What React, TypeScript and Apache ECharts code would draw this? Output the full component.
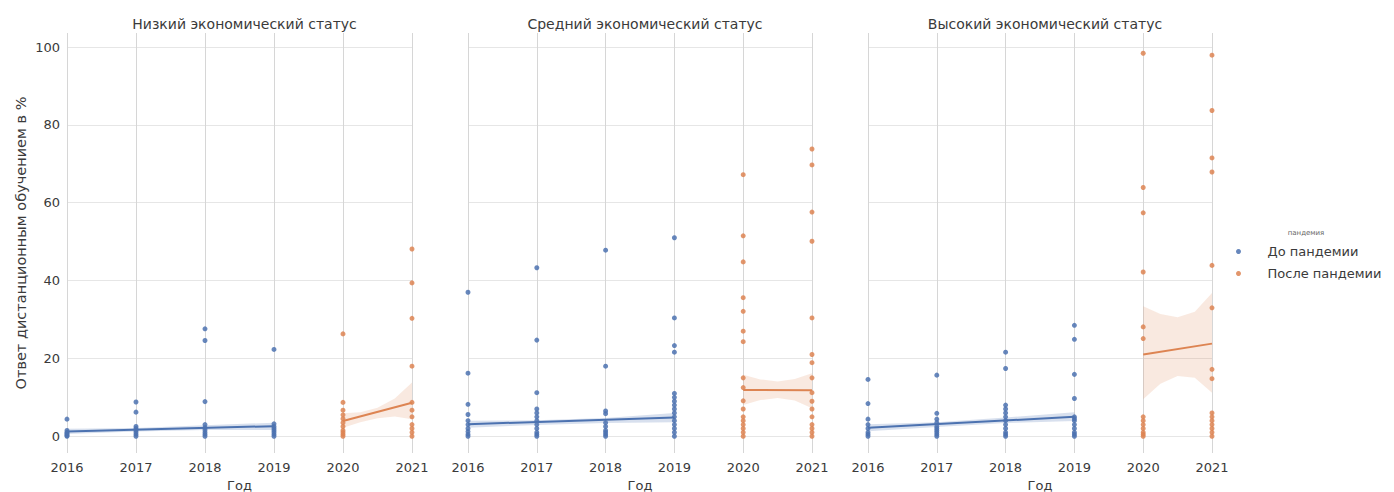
import React, { useEffect, useRef } from "react";
import * as echarts from "echarts";

// ---------- data ----------
const yearTicks = [2016, 2017, 2018, 2019, 2020, 2021];
const yTicks = [0, 20, 40, 60, 80, 100];
const panelTitles = [
  "Низкий экономический статус",
  "Средний экономический статус",
  "Высокий экономический статус",
];
const periodNames = ["До пандемии", "После пандемии"];
const legendTitle = "пандемия";
const xAxisName = "Год";
const yAxisName = "Ответ дистанционным обучением в %";

// scatter points [year, value]
const lowBefore: [number, number][] = [
  [2016, 4.4], [2016, 1.5], [2016, 1], [2016, 0.5], [2016, 0], [2016, 0.2], [2016, 0.8],
  [2017, 8.8], [2017, 6.2], [2017, 2.5], [2017, 2], [2017, 1.5], [2017, 1], [2017, 0.5], [2017, 0],
  [2018, 27.6], [2018, 24.6], [2018, 8.9], [2018, 3], [2018, 2.2], [2018, 1.6], [2018, 1], [2018, 0.5], [2018, 0],
  [2019, 22.3], [2019, 3.2], [2019, 2.5], [2019, 2], [2019, 1.5], [2019, 1], [2019, 0.5], [2019, 0],
];
const lowAfter: [number, number][] = [
  [2020, 26.3], [2020, 8.7], [2020, 6.7], [2020, 5.5], [2020, 4.5], [2020, 3.5], [2020, 2.5], [2020, 1.5], [2020, 1], [2020, 0.5], [2020, 0],
  [2021, 48.1], [2021, 39.4], [2021, 30.3], [2021, 18.0], [2021, 8.7], [2021, 6.7], [2021, 5], [2021, 3], [2021, 2], [2021, 1], [2021, 0],
];
const midBefore: [number, number][] = [
  [2016, 37.0], [2016, 16.2], [2016, 8.2], [2016, 5.6], [2016, 4], [2016, 3], [2016, 2], [2016, 1.2], [2016, 0.5], [2016, 0],
  [2017, 43.3], [2017, 24.7], [2017, 11.2], [2017, 7], [2017, 6], [2017, 5], [2017, 4], [2017, 3], [2017, 2], [2017, 1], [2017, 0.5], [2017, 0],
  [2018, 47.8], [2018, 18.0], [2018, 6.5], [2018, 5.8], [2018, 3.5], [2018, 2.5], [2018, 1.5], [2018, 1], [2018, 0.5], [2018, 0],
  [2019, 51.0], [2019, 30.4], [2019, 23.3], [2019, 21.6], [2019, 11], [2019, 10], [2019, 9], [2019, 8], [2019, 7], [2019, 6], [2019, 5], [2019, 4], [2019, 3], [2019, 2], [2019, 1], [2019, 0],
];
const midAfter: [number, number][] = [
  [2020, 67.2], [2020, 51.5], [2020, 44.8], [2020, 35.6], [2020, 32.1], [2020, 27.0], [2020, 24.3], [2020, 15.0], [2020, 12.5], [2020, 9.1], [2020, 7], [2020, 5], [2020, 4], [2020, 3], [2020, 2], [2020, 1], [2020, 0],
  [2021, 73.8], [2021, 69.7], [2021, 57.6], [2021, 50.1], [2021, 30.4], [2021, 21.0], [2021, 18.9], [2021, 15.0], [2021, 11.2], [2021, 9], [2021, 7], [2021, 5], [2021, 3], [2021, 2], [2021, 1], [2021, 0],
];
const highBefore: [number, number][] = [
  [2016, 14.6], [2016, 8.4], [2016, 4.4], [2016, 3], [2016, 2], [2016, 1], [2016, 0.5], [2016, 0],
  [2017, 15.7], [2017, 5.9], [2017, 4.4], [2017, 3.5], [2017, 2.5], [2017, 2], [2017, 1.5], [2017, 1], [2017, 0.5], [2017, 0],
  [2018, 21.6], [2018, 17.4], [2018, 8], [2018, 7], [2018, 6], [2018, 5], [2018, 4], [2018, 3], [2018, 2], [2018, 1], [2018, 0.5], [2018, 0],
  [2019, 28.5], [2019, 24.9], [2019, 15.9], [2019, 9.7], [2019, 5], [2019, 4.5], [2019, 4], [2019, 3], [2019, 2], [2019, 1], [2019, 0.5], [2019, 0],
];
const highAfter: [number, number][] = [
  [2020, 98.4], [2020, 63.9], [2020, 57.4], [2020, 42.2], [2020, 28.1], [2020, 25.1], [2020, 5], [2020, 4], [2020, 3], [2020, 2], [2020, 1], [2020, 0.5], [2020, 0],
  [2021, 97.9], [2021, 83.7], [2021, 71.5], [2021, 67.9], [2021, 43.9], [2021, 33.0], [2021, 17.2], [2021, 14.8], [2021, 6], [2021, 5], [2021, 4], [2021, 3], [2021, 2], [2021, 1], [2021, 0],
];

// regression fit lines [year, value]
const lowBeforeFit: [number, number][] = [[2016, 1.2], [2019, 2.6]];
const lowAfterFit: [number, number][] = [[2020, 3.9], [2021, 8.6]];
const midBeforeFit: [number, number][] = [[2016, 3.1], [2019, 4.8]];
const midAfterFit: [number, number][] = [[2020, 11.9], [2021, 11.8]];
const highBeforeFit: [number, number][] = [[2016, 2.2], [2019, 5.0]];
const highAfterFit: [number, number][] = [[2020, 21.0], [2021, 23.8]];

// confidence bands [year, low, high]
const lowBeforeBand: [number, number, number][] = [[2016, 0.6, 1.9], [2017, 1.2, 2.1], [2018, 1.6, 2.8], [2019, 1.6, 3.5]];
const lowAfterBand: [number, number, number][] = [[2020, 2.2, 5.9], [2020.25, 3.6, 6.2], [2020.5, 4.6, 7.3], [2020.75, 5.1, 9.7], [2021, 4.4, 13.8]];
const midBeforeBand: [number, number, number][] = [[2016, 2.2, 4.0], [2017, 2.9, 4.1], [2018, 3.4, 4.7], [2019, 3.6, 6.0]];
const midAfterBand: [number, number, number][] = [[2020, 8.0, 15.8], [2020.25, 9.3, 14.6], [2020.5, 9.8, 14.1], [2020.75, 9.2, 14.7], [2021, 7.2, 16.2]];
const highBeforeBand: [number, number, number][] = [[2016, 1.3, 3.1], [2017, 2.4, 3.6], [2018, 3.4, 4.8], [2019, 3.9, 6.2]];
const highAfterBand: [number, number, number][] = [[2020, 9.5, 33.4], [2020.25, 13.5, 31.4], [2020.5, 15.5, 30.6], [2020.75, 15.0, 32.0], [2021, 11.2, 36.8]];

// ---------- styling ----------
const FONT = "DejaVu Sans";
const BLUE = "#4c72b0";
const ORANGE = "#dd8452";
const BLUE_BAND = "rgba(76,114,176,0.22)";
const ORANGE_BAND = "rgba(221,132,82,0.18)";
const TEXT = "#3a3a3a";

const panels = [
  { left: 67, width: 345, before: lowBefore, after: lowAfter, bFit: lowBeforeFit, aFit: lowAfterFit, bBand: lowBeforeBand, aBand: lowAfterBand },
  { left: 468, width: 344, before: midBefore, after: midAfter, bFit: midBeforeFit, aFit: midAfterFit, bBand: midBeforeBand, aBand: midAfterBand },
  { left: 868, width: 344, before: highBefore, after: highAfter, bFit: highBeforeFit, aFit: highAfterFit, bBand: highBeforeBand, aBand: highAfterBand },
];
const GRID_TOP = 33;
const GRID_H = 420;

function bandSeries(band: [number, number, number][], color: string, idx: number) {
  return {
    type: "custom",
    xAxisIndex: idx,
    yAxisIndex: idx,
    silent: true,
    z: 1,
    data: band,
    renderItem: (params: any, api: any) => {
      if (params.dataIndex !== 0) return null;
      const upper = band.map((r) => api.coord([r[0], r[2]]));
      const lower = band.slice().reverse().map((r) => api.coord([r[0], r[1]]));
      return {
        type: "polygon",
        shape: { points: upper.concat(lower) },
        style: { fill: color, stroke: null },
      };
    },
  };
}

export default function App() {
  const ref = useRef<HTMLDivElement>(null);
  useEffect(() => {
    if (!ref.current) return;
    const chart = echarts.init(ref.current, null, { renderer: "svg" });
    const grids: any[] = [];
    const xAxes: any[] = [];
    const yAxes: any[] = [];
    const series: any[] = [];
    const titles: any[] = [];
    panels.forEach((p, i) => {
      grids.push({
        left: p.left, width: p.width, top: GRID_TOP, height: GRID_H,
        containLabel: false, outerBoundsMode: "none",
      });
      titles.push({
        text: panelTitles[i],
        left: p.left + p.width / 2,
        textAlign: "center",
        top: 12,
        textStyle: { fontFamily: FONT, fontSize: 14, fontWeight: "normal", color: TEXT },
      });
      xAxes.push({
        gridIndex: i,
        type: "value",
        min: 2016,
        max: 2021,
        interval: 1,
        name: xAxisName,
        nameLocation: "middle",
        nameGap: 23,
        nameTextStyle: { fontFamily: FONT, fontSize: 13, color: TEXT },
        axisLine: { show: false },
        axisTick: { show: false },
        axisLabel: {
          fontFamily: FONT,
          fontSize: 13,
          color: TEXT,
          margin: 8,
          formatter: (v: number) => String(v),
        },
        splitLine: { show: true, lineStyle: { color: "#d6d6d6", width: 1 } },
      });
      yAxes.push({
        gridIndex: i,
        type: "value",
        min: -4.3,
        max: 103.6,
        name: i === 0 ? yAxisName : "",
        nameLocation: "middle",
        nameGap: 39,
        nameTextStyle: { fontFamily: FONT, fontSize: 14.5, color: TEXT },
        axisLine: { show: false },
        axisTick: { show: false, customValues: yTicks },
        axisLabel: {
          show: i === 0,
          customValues: yTicks,
          fontFamily: FONT,
          fontSize: 13,
          color: TEXT,
          margin: 7,
        },
        splitLine: { show: true, lineStyle: { color: "#e6e6e6", width: 1 } },
      });
      series.push(bandSeries(p.bBand, BLUE_BAND, i));
      series.push(bandSeries(p.aBand, ORANGE_BAND, i));
      series.push({
        type: "line", xAxisIndex: i, yAxisIndex: i, data: p.bFit, showSymbol: false, silent: true, z: 3,
        lineStyle: { color: BLUE, width: 2 },
      });
      series.push({
        type: "line", xAxisIndex: i, yAxisIndex: i, data: p.aFit, showSymbol: false, silent: true, z: 3,
        lineStyle: { color: ORANGE, width: 2 },
      });
      series.push({
        name: periodNames[0], type: "scatter", xAxisIndex: i, yAxisIndex: i, data: p.before,
        symbolSize: 5, z: 2, itemStyle: { color: BLUE, opacity: 0.85 },
      });
      series.push({
        name: periodNames[1], type: "scatter", xAxisIndex: i, yAxisIndex: i, data: p.after,
        symbolSize: 5, z: 2, itemStyle: { color: ORANGE, opacity: 0.85 },
      });
    });

    chart.setOption({
      animation: false,
      backgroundColor: "#ffffff",
      title: titles,
      grid: grids,
      xAxis: xAxes,
      yAxis: yAxes,
      series,
      legend: {
        data: periodNames.map((n) => ({ name: n, icon: "circle" })),
        orient: "vertical",
        left: 1231,
        top: 240,
        itemWidth: 48,
        itemHeight: 5,
        itemGap: 9,
        textStyle: { fontFamily: FONT, fontSize: 13, color: TEXT },
      },
      graphic: [
        {
          type: "text",
          x: 1306,
          y: 233,
          style: { text: legendTitle, fontFamily: FONT, fontSize: 7, fill: "#666", align: "center", verticalAlign: "middle" },
        },
      ],
    });
    return () => chart.dispose();
  }, []);
  return (
    <div
      ref={ref}
      style={{ position: "absolute", left: 0, top: 0, width: 1394, height: 492 }}
    />
  );
}
